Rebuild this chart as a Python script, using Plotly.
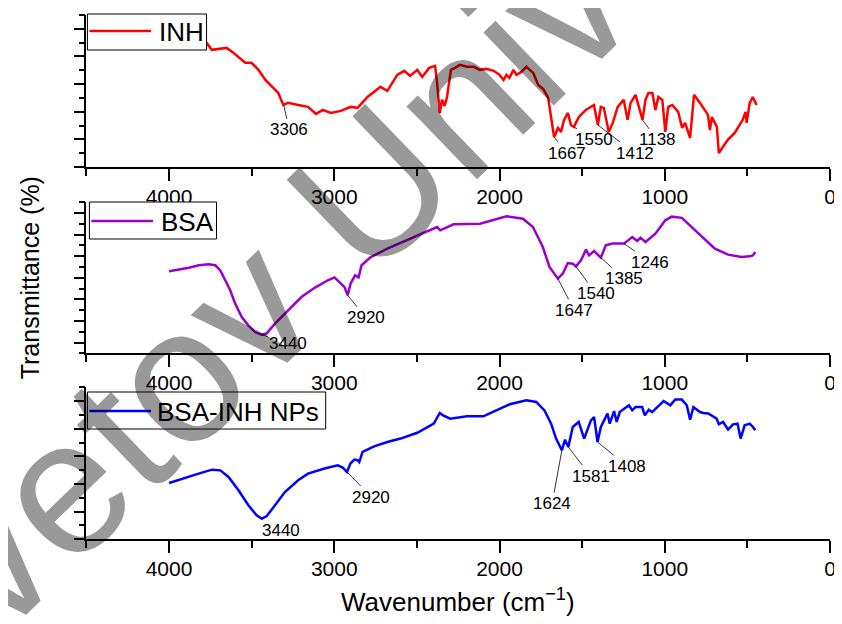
import plotly.graph_objects as go

# ---------------- data (wavenumber cm^-1, transmittance in arbitrary units) ----------------
inh_wn = [4000, 3900, 3800, 3770, 3742, 3700, 3652, 3617, 3581, 3539, 3501, 3459, 3417, 3381, 3339,
          3309, 3279, 3219, 3159, 3111, 3069, 3021, 2961, 2901, 2859, 2799, 2721, 2679, 2619, 2577,
          2541, 2498, 2468, 2426, 2390, 2378, 2362, 2348, 2332, 2318, 2294, 2270, 2240, 2198, 2156,
          2120, 2078, 2036, 2000, 1976, 1958, 1940, 1916, 1898, 1868, 1838, 1796, 1766, 1736, 1706,
          1688, 1670, 1646, 1628, 1610, 1586, 1568, 1550, 1520, 1478, 1429, 1405, 1387, 1369, 1339,
          1315, 1285, 1249, 1225, 1207, 1177, 1159, 1135, 1117, 1099, 1075, 1057, 1039, 1015, 997,
          979, 955, 919, 895, 877, 847, 823, 787, 757, 739, 727, 715, 685, 673, 649, 619, 577, 529,
          511, 505, 486, 468, 444]
inh_t = [8.9, 9.0, 8.95, 8.96, 8.48, 8.55, 8.62, 8.33, 7.97, 7.54, 7.54, 7.03, 6.30, 5.87, 5.36,
         4.49, 4.64, 4.49, 4.35, 3.84, 4.13, 3.91, 4.06, 4.35, 4.28, 5.07, 5.80, 5.51, 6.67, 6.96,
         6.59, 7.03, 6.52, 7.17, 7.32, 6.09, 3.91, 4.86, 4.42, 5.07, 7.03, 7.17, 7.39, 7.25, 7.25,
         7.03, 7.10, 6.96, 6.67, 6.30, 6.67, 6.45, 7.03, 6.67, 6.88, 7.25, 6.81, 5.94, 5.65, 5.00,
         3.62, 2.17, 2.83, 2.54, 3.41, 3.91, 3.04, 2.90, 3.62, 4.13, 4.49, 3.04, 4.35, 4.28, 2.54,
         3.19, 4.35, 4.86, 3.41, 4.64, 5.22, 4.35, 3.41, 4.86, 5.36, 5.36, 4.13, 5.07, 4.86, 2.54,
         4.35, 4.49, 3.99, 2.83, 3.19, 2.10, 5.22, 4.64, 4.13, 3.77, 2.68, 3.62, 2.90, 1.01, 1.45,
         1.96, 2.46, 3.41, 3.99, 3.19, 4.64, 5.07, 4.49]

bsa_wn = [4000, 3940, 3880, 3820, 3761, 3720, 3690, 3660, 3630, 3600, 3560, 3520, 3480, 3440, 3410,
          3359, 3279, 3199, 3119, 3039, 2999, 2969, 2939, 2919, 2901, 2874, 2853, 2835, 2779, 2679,
          2578, 2498, 2419, 2378, 2359, 2278, 2118, 1958, 1858, 1798, 1738, 1698, 1647, 1617, 1587,
          1557, 1538, 1507, 1477, 1458, 1428, 1387, 1357, 1317, 1247, 1197, 1167, 1147, 1117, 1057,
          997, 957, 897, 837, 757, 697, 617, 536, 486, 467, 452]
bsa_t = [7.60, 7.76, 7.94, 8.16, 8.25, 8.16, 7.69, 6.77, 5.84, 4.61, 3.36, 2.59, 1.97, 1.73, 1.83,
         2.75, 3.99, 5.22, 6.07, 6.77, 7.04, 6.61, 6.16, 5.38, 6.49, 7.23, 7.04, 8.16, 8.92, 9.70,
         10.38, 10.94, 11.40, 11.71, 11.40, 11.96, 12.02, 12.70, 12.48, 11.71, 9.85, 8.00, 6.92, 7.39, 8.37,
         8.31, 8.06, 8.62, 9.61, 9.08, 9.48, 8.87, 10.01, 10.17, 10.17, 10.78, 10.41, 10.72, 10.32, 11.09,
         12.33, 12.67, 12.56, 11.71, 10.63, 9.70, 9.15, 8.92, 8.99, 9.08, 9.39]

np_wn = [4000, 3920, 3821, 3740, 3690, 3640, 3580, 3520, 3470, 3440, 3410, 3359, 3299, 3219, 3159,
         3059, 2979, 2949, 2923, 2903, 2879, 2859, 2849, 2829, 2759, 2679, 2599, 2498, 2398, 2362,
         2342, 2298, 2198, 2098, 2018, 1938, 1838, 1778, 1728, 1688, 1658, 1623, 1604, 1584, 1557,
         1521, 1488, 1447, 1428, 1407, 1387, 1368, 1347, 1333, 1307, 1291, 1273, 1217, 1197, 1177,
         1137, 1121, 1097, 1077, 1047, 1007, 967, 937, 897, 867, 847, 827, 787, 767, 737, 686, 673,
         647, 617, 587, 560, 541, 517, 486, 467, 452]
np_t = [4.07, 4.39, 4.75, 5.04, 4.99, 4.51, 3.55, 2.46, 1.74, 1.50, 1.66, 2.46, 3.42, 4.27, 4.75,
        5.12, 5.35, 5.19, 4.87, 5.48, 5.77, 5.72, 5.59, 6.32, 6.73, 7.04, 7.29, 7.71, 8.37, 9.14,
        8.97, 8.73, 8.90, 8.90, 9.33, 9.77, 10.06, 9.94, 9.33, 8.37, 7.29, 6.44, 7.21, 6.68, 8.13,
        8.49, 7.29, 8.61, 8.85, 7.04, 8.13, 8.61, 9.10, 8.37, 9.28, 8.49, 9.21, 9.70, 9.33, 9.57,
        9.57, 8.97, 9.38, 9.21, 9.57, 10.01, 9.70, 10.11, 10.11, 9.70, 8.66, 9.57, 9.21, 9.14, 9.10, 8.73, 8.32,
        8.49, 7.94, 8.32, 8.37, 7.29, 8.25, 8.37, 8.13, 7.89]

series_names = ["INH", "BSA", "BSA-INH NPs"]
series_colors = ["#FF0000", "#9900CC", "#0000FF"]

# peak labels: (label, peak wn, peak T, text wn, text T)
inh_peaks = [("3306", 3306, 4.49, 3273, 2.68), ("1667", 1670, 2.17, 1592, 1.01),
             ("1550", 1550, 2.90, 1429, 1.96), ("1412", 1405, 3.04, 1183, 1.01),
             ("1138", 1135, 3.41, 1045, 1.96)]
bsa_peaks = [("3440", 3440, 1.73, 3279, 0.90), ("2920", 2919, 5.38, 2809, 3.29),
             ("1647", 1647, 6.92, 1548, 3.99), ("1540", 1538, 8.06, 1417, 5.53),
             ("1385", 1387, 8.87, 1247, 6.92), ("1246", 1247, 10.17, 1087, 8.46)]
np_peaks = [("3440", 3440, 1.50, 3320, 0.65), ("2920", 2923, 4.87, 2775, 3.06),
            ("1624", 1623, 6.44, 1682, 2.58), ("1581", 1584, 6.68, 1447, 4.56),
            ("1408", 1407, 7.04, 1227, 5.28)]

x_ticks = [4000, 3000, 2000, 1000, 0]
x_tick_text = ["4000", "3000", "2000", "1000", "0"]

FONT = "Liberation Sans, Arial, sans-serif"
OFF = 8                      # page body margin in the browser
W, H = 842 - OFF, 624 - OFF

def px(x):
    return (x - OFF) / W

def py(y):
    return 1 - (y - OFF) / H

fig = go.Figure()
data = [(inh_wn, inh_t), (bsa_wn, bsa_t), (np_wn, np_t)]
for i, (wn, t) in enumerate(data):
    sfx = "" if i == 0 else str(i + 1)
    fig.add_trace(go.Scatter(x=wn, y=t, mode="lines", name=series_names[i],
                             line=dict(color=series_colors[i], width=2.5),
                             xaxis="x" + sfx, yaxis="y" + sfx, showlegend=False))

xdom = [px(87), px(836)]
ydoms = [[py(167), py(15)], [py(353.3), py(202.3)], [py(539.3), py(387.3)]]
yranges = [[0, 11], [0, 14], [0, 11]]
ytick0 = [0, 1, 0]

layout = dict(width=W, height=H, margin=dict(l=0, r=0, t=0, b=0),
              paper_bgcolor="white", plot_bgcolor="white",
              font=dict(family=FONT, color="black"), showlegend=False)
for i in range(3):
    sfx = "" if i == 0 else str(i + 1)
    layout["xaxis" + sfx] = dict(domain=xdom, range=[4500, 0], anchor="y" + sfx,
                                 tickvals=x_ticks, ticktext=x_tick_text, ticks="outside",
                                 ticklen=12, tickwidth=1.5, tickcolor="black",
                                 ticklabelstandoff=-2,
                                 minor=dict(dtick=500, tick0=0, ticks="outside", ticklen=7,
                                            tickwidth=1.5, tickcolor="black"),
                                 showline=True, linecolor="black", linewidth=1.5,
                                 showgrid=False, zeroline=False,
                                 tickfont=dict(size=21, family=FONT, color="black"))
    layout["yaxis" + sfx] = dict(domain=ydoms[i], range=yranges[i], anchor="x" + sfx,
                                 tick0=ytick0[i], dtick=2, ticks="outside", ticklen=11,
                                 tickwidth=1.5, tickcolor="black", showticklabels=False,
                                 minor=dict(dtick=1, tick0=0, ticks="outside", ticklen=6,
                                            tickwidth=1.5, tickcolor="black"),
                                 showline=True, linecolor="black", linewidth=1.5,
                                 showgrid=False, zeroline=False)
fig.update_layout(**layout)

# legends drawn as boxes
legend_boxes = [(88, 208, 14, 50, 90, 152, 31, 158),
                (90, 218, 202, 239, 92, 154, 221, 160),
                (88, 328, 392, 429, 90, 152, 411, 156)]
shapes = []
annotations = []
for i, (x0, x1, y0, y1, lx0, lx1, ly, tx) in enumerate(legend_boxes):
    shapes.append(dict(type="rect", xref="paper", yref="paper", x0=px(x0), x1=px(x1),
                       y0=py(y1), y1=py(y0), fillcolor="white",
                       line=dict(color="black", width=1), layer="above"))
    shapes.append(dict(type="line", xref="paper", yref="paper", x0=px(lx0), x1=px(lx1),
                       y0=py(ly), y1=py(ly), line=dict(color=series_colors[i], width=2.5),
                       layer="above"))
    annotations.append(dict(xref="paper", yref="paper", x=px(tx), y=py(ly + 1),
                            text=series_names[i], showarrow=False, xanchor="left",
                            yanchor="middle", font=dict(size=26, family=FONT, color="black")))

# peak labels with leader lines
for i, peaks in enumerate([inh_peaks, bsa_peaks, np_peaks]):
    sfx = "" if i == 0 else str(i + 1)
    for lab, xw, yt, tw, tt in peaks:
        annotations.append(dict(x=xw, y=yt, xref="x" + sfx, yref="y" + sfx,
                                ax=tw, ay=tt, axref="x" + sfx, ayref="y" + sfx,
                                text=lab, showarrow=True, arrowhead=0, arrowwidth=0.8,
                                arrowcolor="black", xanchor="center", yanchor="middle",
                                standoff=0, font=dict(size=17, family=FONT, color="black")))

# axis titles
annotations.append(dict(xref="paper", yref="paper", x=px(461), y=py(600),
                        text="Wavenumber (cm<sup>\u22121</sup>)", showarrow=False,
                        xanchor="center", yanchor="middle",
                        font=dict(size=26, family=FONT, color="black")))
annotations.append(dict(xref="paper", yref="paper", x=px(30), y=py(277.5),
                        text="Transmittance (%)", showarrow=False, textangle=-90,
                        xanchor="center", yanchor="middle",
                        font=dict(size=25, family=FONT, color="black")))

# watermark overlay
annotations.append(dict(xref="paper", yref="paper", x=px(316), y=py(244),
                        text="vetov Unive", showarrow=False, textangle=-44,
                        xanchor="center", yanchor="middle",
                        font=dict(size=192, family=FONT, color="rgba(0,0,0,0.4)")))

fig.update_layout(shapes=shapes, annotations=annotations)
fig.write_html("out.html")
